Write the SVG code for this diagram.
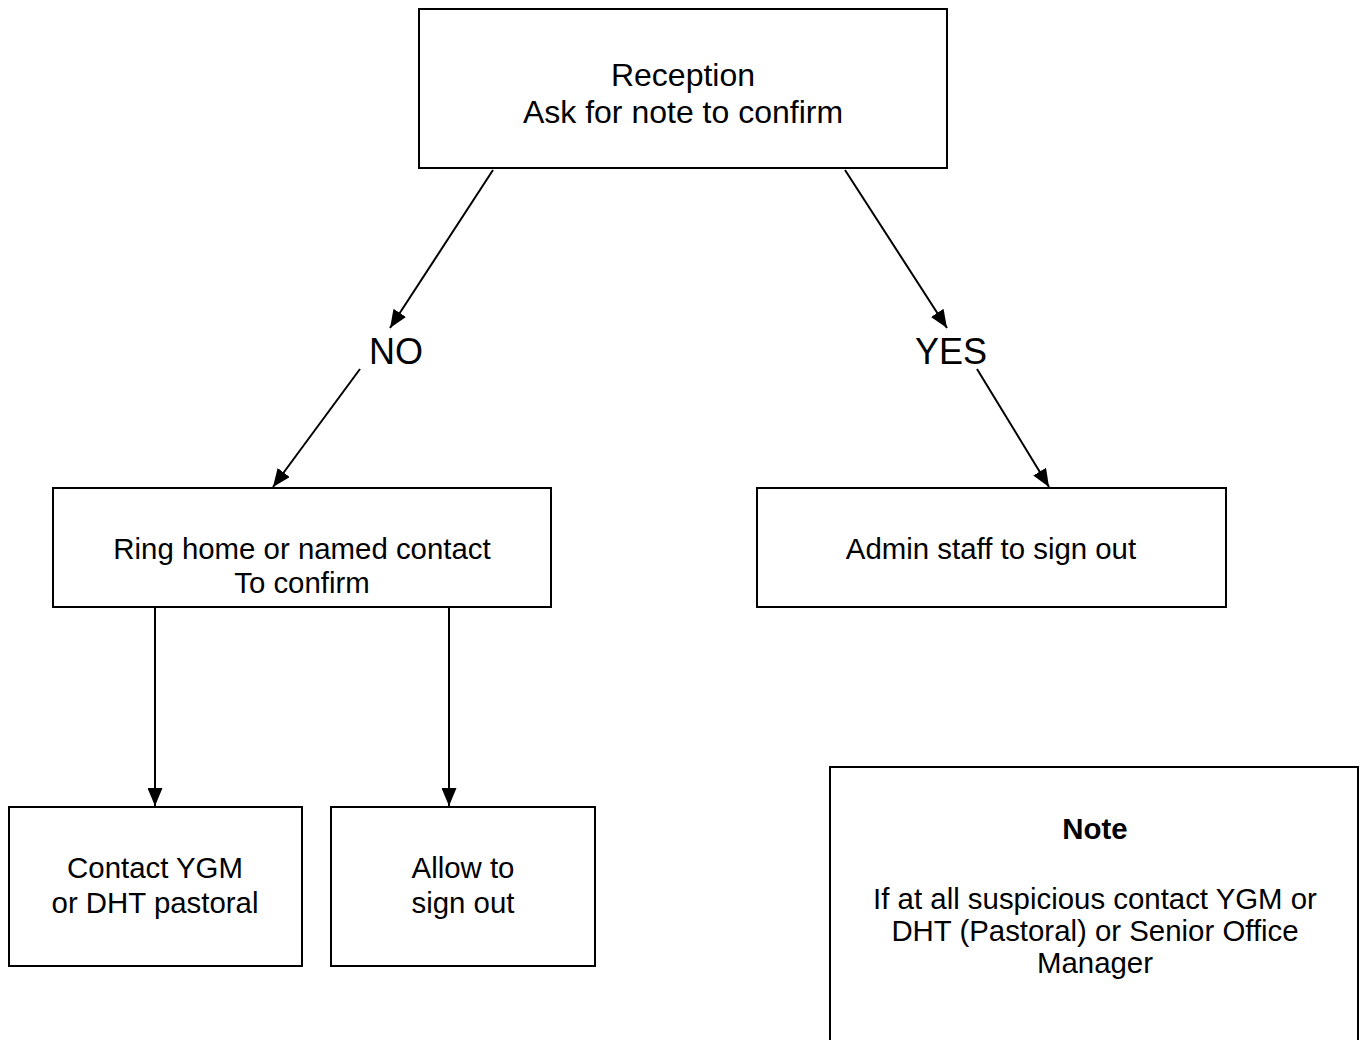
<svg xmlns="http://www.w3.org/2000/svg" width="1362" height="1040" viewBox="0 0 1362 1040">
<style>
.box{fill:#fff;stroke:#000;stroke-width:2}
.t{font-family:"Liberation Sans",Arial,sans-serif;font-size:29.4px;fill:#000;text-anchor:middle}
.big{font-size:32px}
.lbl{font-family:"Liberation Sans",Arial,sans-serif;font-size:36px;fill:#000;text-anchor:middle}
.b{font-weight:bold}
.c{stroke:#000;stroke-width:2;fill:none;marker-end:url(#ah)}
</style>
<defs>
<marker id="ah" markerUnits="userSpaceOnUse" markerWidth="18" markerHeight="15" refX="18" refY="7.5" orient="auto" viewBox="0 0 18 15">
<path d="M0,0 L18,7.5 L0,15 z" fill="#000"/>
</marker>
</defs>
<rect width="1362" height="1040" fill="#fff"/>
<g id="connectors">
<line class="c" x1="493" y1="170" x2="390" y2="328"/>
<line class="c" x1="360" y1="369" x2="273" y2="487"/>
<line class="c" x1="845" y1="170" x2="947" y2="328"/>
<line class="c" x1="977" y1="369" x2="1049" y2="487"/>
<line class="c" x1="155" y1="607" x2="155" y2="806"/>
<line class="c" x1="449" y1="607" x2="449" y2="806"/>
</g>
<g id="reception">
<rect class="box" x="419" y="9" width="528" height="159"/>
<text class="t big" x="683" y="86">Reception</text>
<text class="t big" x="683" y="123">Ask for note to confirm</text>
</g>
<g id="label-no"><text class="lbl" x="396" y="364">NO</text></g>
<g id="label-yes"><text class="lbl" x="951" y="364">YES</text></g>
<g id="ring-home">
<rect class="box" x="53" y="488" width="498" height="119"/>
<text class="t" x="302" y="559">Ring home or named contact</text>
<text class="t" x="302" y="593">To confirm</text>
</g>
<g id="admin">
<rect class="box" x="757" y="488" width="469" height="119"/>
<text class="t" x="991" y="559">Admin staff to sign out</text>
</g>
<g id="contact-ygm">
<rect class="box" x="9" y="807" width="293" height="159"/>
<text class="t" x="155" y="878">Contact YGM</text>
<text class="t" x="155" y="913">or DHT pastoral</text>
</g>
<g id="allow">
<rect class="box" x="331" y="807" width="264" height="159"/>
<text class="t" x="463" y="878">Allow to</text>
<text class="t" x="463" y="913">sign out</text>
</g>
<g id="note">
<rect class="box" x="830" y="767" width="528" height="290"/>
<text class="t b" x="1095" y="839">Note</text>
<text class="t" x="1095" y="909">If at all suspicious contact YGM or</text>
<text class="t" x="1095" y="941">DHT (Pastoral) or Senior Office</text>
<text class="t" x="1095" y="973">Manager</text>
</g>
</svg>
